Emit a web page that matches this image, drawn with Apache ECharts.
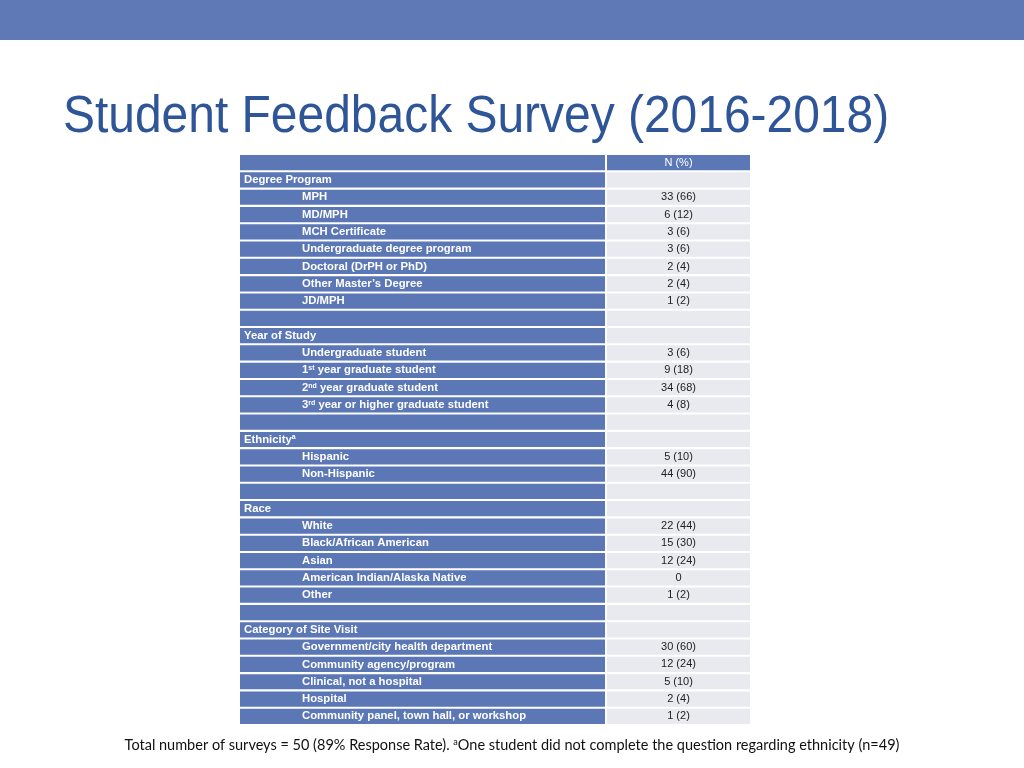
<!DOCTYPE html>
<html>
<head>
<meta charset="utf-8">
<script src="https://cdn.jsdelivr.net/npm/echarts@6/dist/echarts.min.js"></script>
<style>
html,body{margin:0;padding:0;background:#fff;}
#chart{width:1024px;height:768px;}
</style>
</head>
<body>
<div id="chart"></div>
<script>
// ---- data ----
const titleText = 'Student Feedback Survey (2016-2018)';
const headerLabel = 'N (%)';
// level 0 = section heading, 1 = item, -1 = blank spacer
const rowLabels = [
  'Degree Program','MPH','MD/MPH','MCH Certificate','Undergraduate degree program','Doctoral (DrPH or PhD)','Other Master\u2019s Degree','JD/MPH',
  '',
  'Year of Study','Undergraduate student','1{sup|st} year graduate student','2{sup|nd} year graduate student','3{sup|rd} year or higher graduate student',
  '',
  'Ethnicity{sup|a}','Hispanic','Non-Hispanic',
  '',
  'Race','White','Black/African American','Asian','American Indian/Alaska Native','Other',
  '',
  'Category of Site Visit','Government/city health department','Community agency/program','Clinical, not a hospital','Hospital','Community panel, town hall, or workshop'
];
const rowLevels = [
  0,1,1,1,1,1,1,1,
  -1,
  0,1,1,1,1,
  -1,
  0,1,1,
  -1,
  0,1,1,1,1,1,
  -1,
  0,1,1,1,1,1
];
const counts = [
  null,33,6,3,3,2,2,1,
  null,
  null,3,9,34,4,
  null,
  null,5,44,
  null,
  null,22,15,12,0,1,
  null,
  null,30,12,5,2,1
];
const percents = [
  null,66,12,6,6,4,4,2,
  null,
  null,6,18,68,8,
  null,
  null,10,90,
  null,
  null,44,30,24,null,2,
  null,
  null,60,24,10,4,2
];
const footnote = 'Total number of surveys = 50 (89% Response Rate). {sup|a}One student did not complete the question regarding ethnicity (n=49)';

// ---- layout helpers ----
const BLUE = '#5B77B6';
const GREY = '#E9EAEF';
const LEFT_W = 365, GAP_W = 2, RIGHT_W = 143;
const FONT = 'Liberation Sans, Arial, sans-serif';

const cats = ['header'].concat(rowLabels.map((_, i) => 'r' + i));

function valueText(i) {
  if (counts[i] === null) return '';
  if (percents[i] === null) return String(counts[i]);
  return counts[i] + ' (' + percents[i] + ')';
}

const leftData = [{ value: LEFT_W, label: { show: false } }].concat(rowLabels.map((lab, i) => ({
  value: LEFT_W,
  label: {
    show: rowLevels[i] >= 0,
    formatter: lab,
    offset: [rowLevels[i] === 1 ? 58 : 0, 0]
  }
})));
const gapData = cats.map(() => GAP_W);
const rightData = [{
  value: RIGHT_W,
  itemStyle: { color: BLUE },
  label: { formatter: headerLabel, color: '#ffffff' }
}].concat(rowLabels.map((_, i) => ({
  value: RIGHT_W,
  label: { formatter: valueText(i) }
})));

const chart = echarts.init(document.getElementById('chart'), null, { renderer: 'canvas' });
chart.setOption({
  animation: false,
  backgroundColor: '#ffffff',
  title: [{
    text: footnote,
    left: 'center',
    top: 738,
    padding: 0,
    textStyle: {
      fontFamily: 'Lato, sans-serif', fontSize: 14.5, fontWeight: 'normal', color: '#111111',
      rich: { sup: { fontSize: 9, verticalAlign: 'top', color: '#111111', fontFamily: 'Lato, sans-serif' } }
    }
  }],
  graphic: [{
    type: 'rect', left: 0, top: 0, shape: { width: 1024, height: 40 }, style: { fill: '#5F79B6' }, silent: true
  }, {
    type: 'text', x: 63, y: 118, scaleX: 0.94, silent: true,
    style: {
      text: titleText, fill: '#2E5597',
      font: 'normal 51px "Liberation Sans", Arial, sans-serif',
      align: 'left', verticalAlign: 'middle'
    }
  }],
  grid: { left: 240, right: 274, top: 154, bottom: 43, containLabel: false },
  xAxis: { type: 'value', min: 0, max: LEFT_W + GAP_W + RIGHT_W, show: false },
  yAxis: { type: 'category', data: cats, inverse: true, show: false },
  series: [{
    type: 'bar', stack: 't', data: leftData, barCategoryGap: '12%',
    itemStyle: { color: BLUE },
    label: {
      show: true, position: 'insideLeft', distance: 4,
      color: '#ffffff', fontFamily: FONT, fontSize: 11.3, fontWeight: 'bold',
      rich: { sup: { fontSize: 7, verticalAlign: 'top', color: '#ffffff', fontWeight: 'bold', fontFamily: FONT } }
    }
  }, {
    type: 'bar', stack: 't', data: gapData,
    itemStyle: { color: 'rgba(0,0,0,0)' }
  }, {
    type: 'bar', stack: 't', data: rightData,
    itemStyle: { color: GREY },
    label: {
      show: true, position: 'inside',
      color: '#222222', fontFamily: FONT, fontSize: 11
    }
  }]
});
</script>
</body>
</html>
